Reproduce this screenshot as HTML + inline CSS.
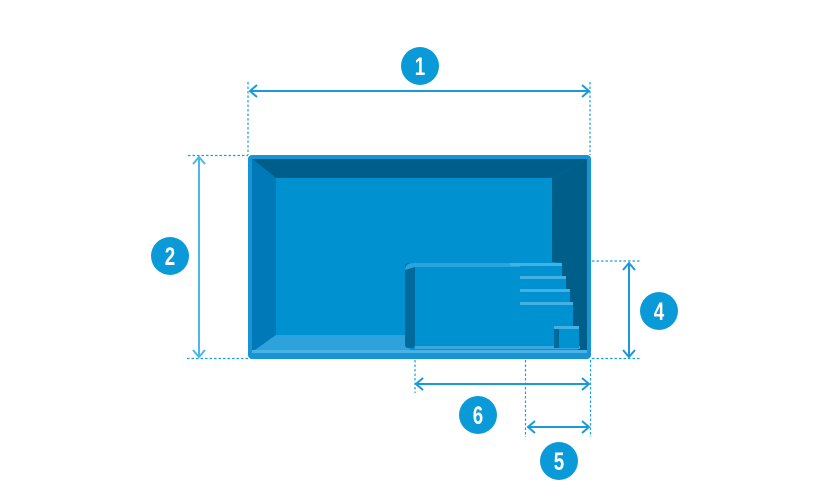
<!DOCTYPE html>
<html><head><style>html,body{margin:0;padding:0;background:#fff;width:840px;height:500px;overflow:hidden}</style></head>
<body>
<svg width="840" height="500" viewBox="0 0 840 500" xmlns="http://www.w3.org/2000/svg">
<rect x="248" y="155" width="343" height="204" rx="4" fill="#1893d3"/>
<rect x="252" y="159" width="335" height="193" fill="#0092d0"/>
<polygon points="252,159 587,159 552,178 276,178" fill="#005f8a"/>
<polygon points="252,159 276,178 276,335 252,352" fill="#0079b8"/>
<polygon points="587,159 587,352 578,352 578,326 573,326 573,302 570,302 570,289 566,289 566,276 562,276 562,263 552,262 552,178" fill="#005f8a"/>
<polygon points="276,335 410,335 410,352 252,352" fill="#2ea2dc"/>
<rect x="252" y="350" width="335" height="3" fill="#4ab2e4"/>
<rect x="405" y="263" width="10" height="85" rx="3" fill="#006a9c"/>
<path d="M405,270 Q405,263 413,263 L520,263 L520,267 L415,267 Z" fill="#2ea2dc"/>
<rect x="415" y="267" width="145" height="80" fill="#0092d0"/>
<rect x="415" y="346" width="165" height="3" fill="#3aa8df"/>
<rect x="560" y="276" width="6" height="14" fill="#0092d0"/>
<rect x="560" y="289" width="10" height="14" fill="#0092d0"/>
<rect x="560" y="302" width="13" height="25" fill="#0092d0"/>
<rect x="510" y="263" width="52" height="3" fill="#45b0e4"/>
<rect x="520" y="276" width="46" height="3" fill="#45b0e4"/>
<rect x="520" y="289" width="50" height="3" fill="#45b0e4"/>
<rect x="520" y="302" width="53" height="3" fill="#45b0e4"/>
<rect x="554" y="326" width="25" height="3" fill="#45b0e4"/>
<rect x="554" y="329" width="5" height="19" fill="#006a9c"/>
<rect x="559" y="329" width="20" height="19" fill="#0092d0"/>
<g stroke="#1aa0dc" stroke-width="1.2" fill="none" stroke-dasharray="2.5,2">
<line x1="248" y1="82" x2="248" y2="155"/>
<line x1="590" y1="82" x2="590" y2="155"/>
<line x1="188" y1="155.5" x2="248" y2="155.5"/>
<line x1="187" y1="358.5" x2="250" y2="358.5"/>
<line x1="592" y1="261" x2="641" y2="261"/>
<line x1="592" y1="358.5" x2="641" y2="358.5"/>
<line x1="415" y1="360" x2="415" y2="393"/>
<line x1="525.5" y1="360" x2="525.5" y2="437"/>
<line x1="590.5" y1="360" x2="590.5" y2="437"/>
</g>
<g stroke="#1a9ad6" stroke-width="2" fill="none">
<line x1="250" y1="91" x2="589" y2="91"/>
<polyline points="257,85 250,91 257,97"/><polyline points="582,85 589,91 582,97"/>
<line x1="199" y1="157" x2="199" y2="357" stroke="#4ab8e8"/>
<polyline points="193,164 199,157 205,164" stroke="#4ab8e8"/><polyline points="193,350 199,357 205,350" stroke="#4ab8e8"/>
<line x1="629" y1="263" x2="629" y2="357"/>
<polyline points="623,270 629,263 635,270"/><polyline points="623,350 629,357 635,350"/>
<line x1="416" y1="384" x2="589" y2="384"/>
<polyline points="423,378 416,384 423,390"/><polyline points="582,378 589,384 582,390"/>
<line x1="528" y1="427" x2="589" y2="427"/>
<polyline points="535,421 528,427 535,433"/><polyline points="582,421 589,427 582,433"/>
</g>
<g fill="#0a9ad8">
<circle cx="420" cy="66" r="19"/><circle cx="170" cy="256" r="19"/><circle cx="659" cy="311" r="19"/>
<circle cx="478" cy="415" r="19"/><circle cx="559" cy="461" r="19"/>
</g>
<g fill="#fff" font-family="Liberation Sans Narrow, Liberation Sans, sans-serif" font-weight="bold" font-size="25" text-anchor="middle">
<text x="420" y="75" transform="translate(420 75) scale(0.75 1) translate(-420 -75)">1</text>
<text x="170" y="265" transform="translate(170 265) scale(0.75 1) translate(-170 -265)">2</text>
<text x="659" y="320" transform="translate(659 320) scale(0.75 1) translate(-659 -320)">4</text>
<text x="478" y="424" transform="translate(478 424) scale(0.75 1) translate(-478 -424)">6</text>
<text x="559" y="470" transform="translate(559 470) scale(0.75 1) translate(-559 -470)">5</text>
</g>
</svg>
</body></html>
